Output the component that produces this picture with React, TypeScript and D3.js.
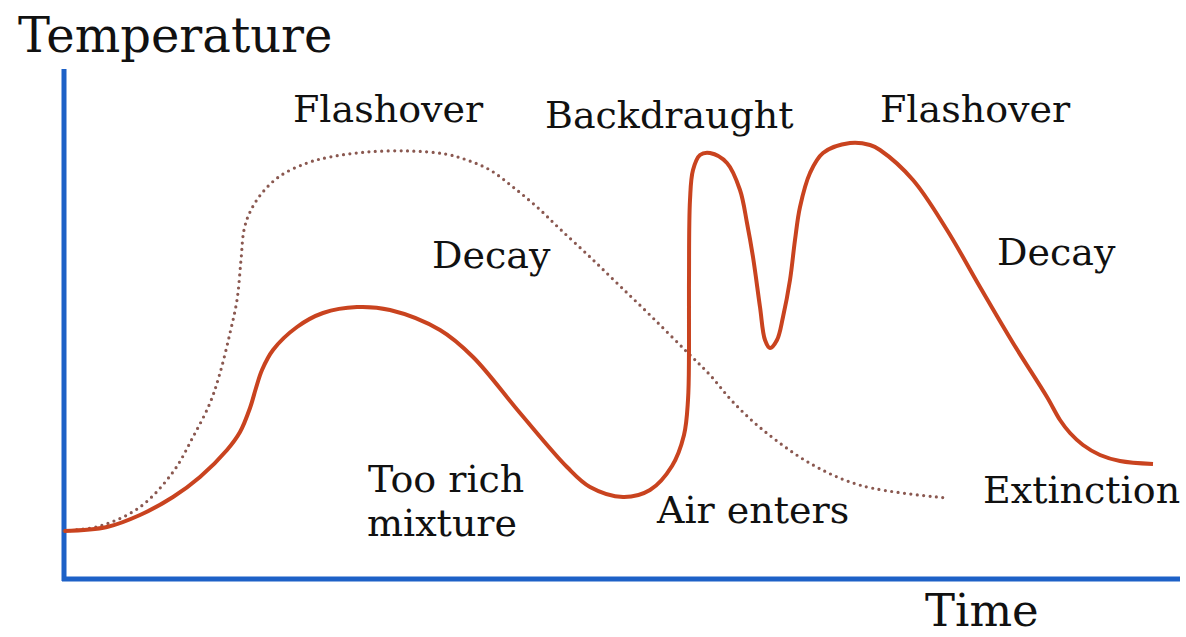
import React from "react";
import * as d3 from "d3";

// time units: 0..112, temperature units: 0..510
const solidTime = [0, 4.3, 7.6, 10.9, 13.6, 16.3, 17.6, 18.6, 19.2, 19.8, 20.9, 23.3, 25.9, 29.3, 32.6, 37.6, 40.9, 45.6, 50.3, 52.6, 55.9, 58.6, 60.8, 62.0, 62.4, 62.5, 62.5, 62.6, 62.9, 63.6, 64.6, 66.3, 67.6, 68.3, 68.9, 69.6, 70.1, 70.6, 71.3, 71.9, 72.6, 73.1, 73.6, 74.6, 75.9, 78.6, 80.6, 81.6, 84.9, 88.3, 91.6, 94.9, 98.3, 99.6, 100.6, 101.9, 103.6, 105.6, 108.9];
const solidTemp = [48, 52, 64, 82, 102, 129, 147, 171, 191, 209, 229, 252, 266, 272, 269, 249, 222, 166, 112, 92, 82, 89, 113, 144, 179, 229, 299, 379, 409, 424, 426, 416, 389, 356, 322, 272, 239, 231, 239, 262, 299, 339, 372, 406, 426, 436, 434, 429, 399, 349, 292, 236, 182, 159, 146, 134, 124, 118, 115];

const dottedTime = [0, 3.6, 7.6, 10.9, 12.9, 14.6, 15.6, 16.6, 17.3, 17.7, 18.0, 18.6, 19.8, 21.6, 24.3, 26.6, 30.3, 34.6, 38.1, 40.3, 42.6, 44.9, 47.3, 49.6, 52.6, 55.6, 58.9, 62.3, 64.6, 66.9, 69.9, 74.9, 79.9, 88.3];
const dottedTemp = [48, 53, 72, 107, 142, 176, 206, 246, 279, 319, 349, 367, 386, 403, 416, 422, 427, 428, 425, 419, 409, 392, 372, 350, 322, 293, 261, 227, 204, 177, 149, 114, 93, 81];

const labels = ["Flashover", "Backdraught", "Flashover", "Decay", "Decay", "Too rich", "mixture", "Air enters", "Extinction"];
const labelTime = [22.9, 48.1, 81.6, 36.8, 93.3, 30.4, 30.3, 59.3, 91.9];
const labelTemp = [457, 451, 457, 311, 314, 87, 43, 56, 76];

const yAxisTitle = "Temperature";
const xAxisTitle = "Time";

const W = 1186;
const H = 637;

export default function App() {
  const x = d3.scaleLinear().domain([0, 112]).range([64, 1184]);
  const y = d3.scaleLinear().domain([0, 510]).range([579, 69]);

  const line = d3
    .line<number>()
    .x((_, i) => x(solidTime[i]))
    .y((t) => y(t))
    .curve(d3.curveCatmullRom.alpha(0.5));

  const dline = d3
    .line<number>()
    .x((_, i) => x(dottedTime[i]))
    .y((t) => y(t))
    .curve(d3.curveCatmullRom.alpha(0.5));

  const font = "'DejaVu Serif', serif";

  return (
    <svg
      width={W}
      height={H}
      style={{ position: "absolute", left: 0, top: 0, background: "#fff" }}
    >
      <rect width={W} height={H} fill="#fff" />
      {/* axes */}
      <line x1={x(0)} y1={y(510)} x2={x(0)} y2={y(0) + 2} stroke="#1d61c7" strokeWidth={5} />
      <line x1={x(0) - 2} y1={y(0)} x2={1180} y2={y(0)} stroke="#1d61c7" strokeWidth={5} />

      <path
        d={dline(dottedTemp) || ""}
        fill="none"
        stroke="#8a5850"
        strokeWidth={3.2}
        strokeDasharray="0 6.4"
        strokeLinecap="round"
      />
      <path d={line(solidTemp) || ""} fill="none" stroke="#c9431f" strokeWidth={4} strokeLinejoin="round" />

      <text x={18} y={52} fontFamily={font} fontSize={48} fill="#111">
        {yAxisTitle}
      </text>
      <text x={925} y={626} fontFamily={font} fontSize={45} fill="#111">
        {xAxisTitle}
      </text>
      {labels.map((l, i) => (
        <text key={i} x={x(labelTime[i])} y={y(labelTemp[i])} fontFamily={font} fontSize={38} fill="#111">
          {l}
        </text>
      ))}
    </svg>
  );
}
